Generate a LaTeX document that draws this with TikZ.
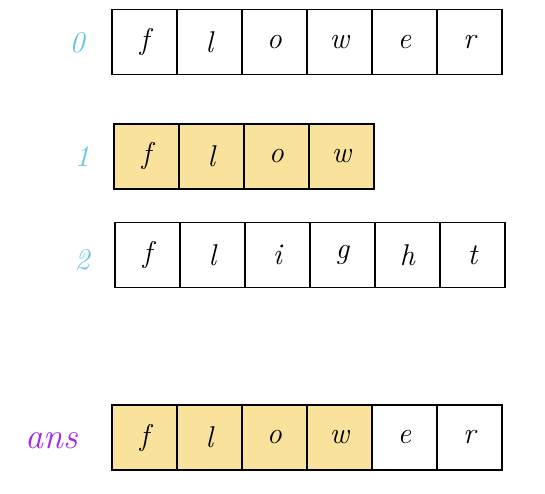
\documentclass[tikz,border=0pt]{standalone}
\usepackage{fontspec}
\definecolor{idxcyan}{HTML}{62C6E0}
\definecolor{anspurple}{HTML}{A626F0}
\definecolor{hlyellow}{HTML}{F9E29C}
\tikzset{
  cell/.style={draw=black, line width=1.8pt, minimum width=65pt, minimum height=65pt, inner sep=0pt, font=\fontsize{30}{34}\selectfont\itshape, anchor=west},
  hl/.style={fill=hlyellow},
  idx/.style={text=idxcyan, font=\fontsize{30}{34}\selectfont\itshape},
  anslab/.style={text=anspurple, font=\fontsize{36}{40}\selectfont\itshape}
}
\begin{document}
\begin{tikzpicture}[x=1pt,y=-1pt]
\useasboundingbox (0,0) rectangle (545,494);
% row 0
\foreach \ch [count=\i from 0] in {f,l,o,w,e,r}
  \node[cell] (a\i) at (111+65*\i,42) {\ch};
% row 1
\foreach \ch [count=\i from 0] in {f,l,o,w}
  \node[cell,hl] (b\i) at (113+65*\i,156.5) {\ch};
% row 2
\foreach \ch [count=\i from 0] in {f,l,i,g,h,t}
  \node[cell] (c\i) at (114+65*\i,255) {\ch};
% ans
\foreach \ch [count=\i from 0] in {f,l,o,w}
  \node[cell,hl] (d\i) at (111+65*\i,437.5) {\ch};
\foreach \ch [count=\i from 4] in {e,r}
  \node[cell] (d\i) at (111+65*\i,437.5) {\ch};
% labels
\node[idx] (l0) at (77,43) {0};
\node[idx] (l1) at (82,157) {1};
\node[idx] (l2) at (82,260) {2};
\node[anslab] (lans) at (52,441) {ans};
\end{tikzpicture}
\end{document}
